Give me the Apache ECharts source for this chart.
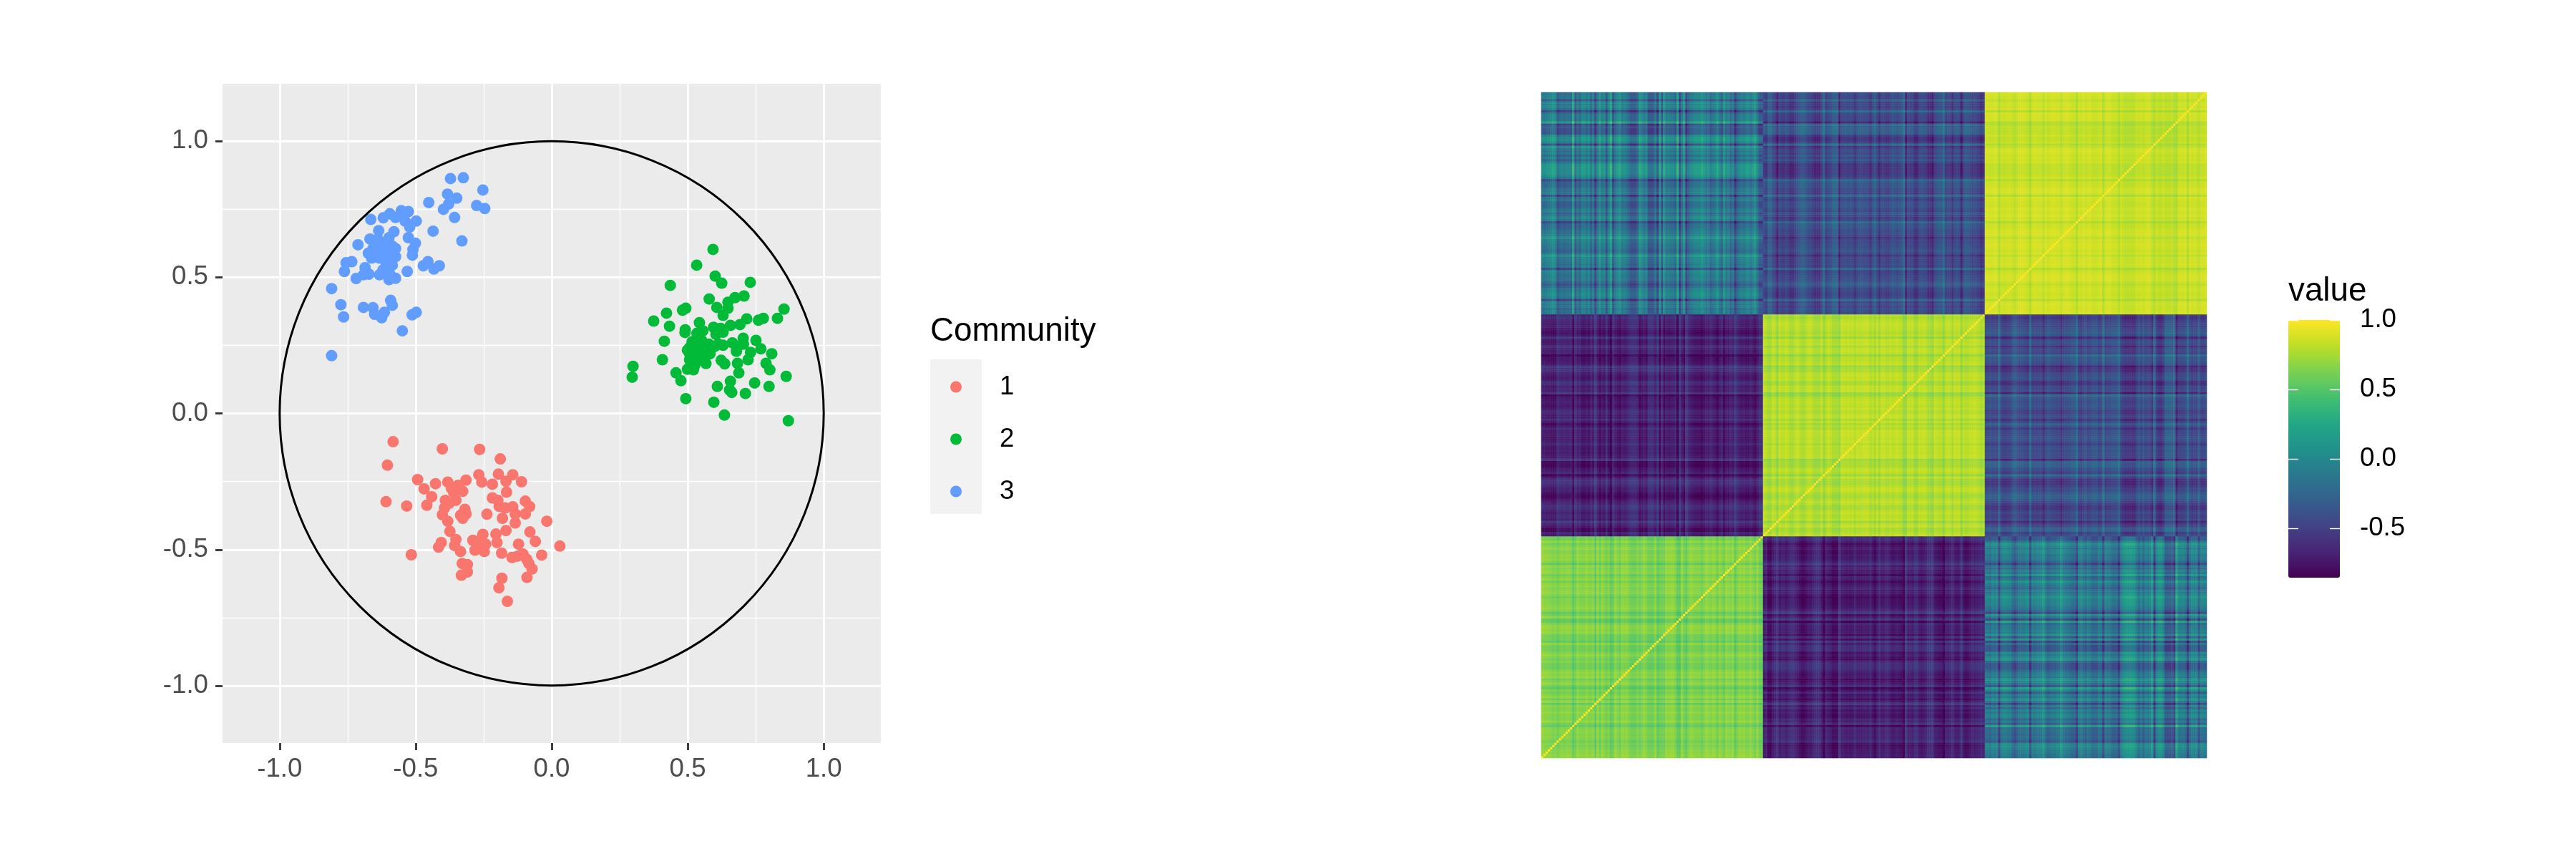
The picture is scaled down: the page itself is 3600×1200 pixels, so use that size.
<!DOCTYPE html>
<html><head><meta charset="utf-8">
<style>html,body{margin:0;padding:0;background:#fff}#c{width:3600px;height:1200px}</style>
<script src="https://cdn.jsdelivr.net/npm/echarts@6/dist/echarts.min.js"></script>
</head><body><div id="c"></div>
<script>
// Scatter positions.
const community1 = [[-.583,-.104],[-.402,-.130],[-.265,-.132],[-.189,-.167],[-.604,-.190],[-.493,-.243],[-.427,-.258],[-.469,-.277],[-.441,-.306],[-.459,-.337],[-.382,-.252],[-.315,-.245],[-.344,-.264],[-.360,-.291],[-.327,-.286],[-.268,-.225],[-.257,-.252],[-.218,-.260],[-.196,-.223],[-.168,-.249],[-.143,-.225],[-.111,-.251],[-.166,-.289],[-.609,-.324],[-.533,-.340],[-.218,-.310],[-.198,-.319],[-.097,-.322],[-.081,-.342],[-.193,-.341],[-.143,-.343],[-.171,-.347],[-.134,-.369],[-.097,-.369],[-.238,-.370],[-.377,-.330],[-.352,-.319],[-.394,-.347],[-.402,-.372],[-.319,-.352],[-.335,-.374],[-.315,-.369],[-.327,-.385],[-.382,-.396],[-.181,-.385],[-.134,-.402],[-.018,-.396],[-.374,-.433],[-.168,-.430],[-.205,-.443],[-.080,-.435],[-.253,-.444],[-.060,-.470],[-.352,-.463],[-.201,-.474],[-.122,-.480],[.030,-.487],[-.290,-.466],[-.243,-.480],[-.268,-.485],[-.406,-.474],[-.416,-.491],[-.357,-.485],[-.335,-.507],[-.282,-.502],[-.248,-.507],[-.516,-.519],[-.184,-.513],[-.146,-.529],[-.106,-.516],[-.037,-.520],[-.126,-.524],[-.092,-.535],[-.084,-.551],[-.072,-.571],[-.091,-.602],[-.329,-.551],[-.310,-.555],[-.310,-.582],[-.332,-.594],[-.183,-.605],[-.194,-.640],[-.163,-.690],[-.260,-.463],[-.369,-.275],[-.391,-.319]];
const community2 = [[.593,.602],[.533,.544],[.601,.504],[.625,.478],[.730,.481],[.436,.470],[.579,.420],[.607,.389],[.648,.408],[.674,.425],[.707,.431],[.648,.386],[.630,.360],[.854,.383],[.830,.349],[.778,.349],[.760,.342],[.717,.347],[.692,.326],[.657,.323],[.493,.386],[.481,.379],[.422,.368],[.375,.339],[.433,.320],[.543,.333],[.491,.307],[.490,.297],[.534,.294],[.556,.303],[.595,.316],[.621,.312],[.604,.290],[.630,.298],[.414,.265],[.551,.268],[.507,.241],[.534,.237],[.613,.254],[.630,.250],[.664,.259],[.704,.276],[.705,.254],[.683,.246],[.751,.268],[.769,.237],[.809,.219],[.679,.228],[.731,.224],[.722,.197],[.507,.219],[.529,.211],[.560,.219],[.582,.219],[.507,.197],[.538,.193],[.567,.183],[.623,.195],[.636,.182],[.407,.197],[.683,.184],[.788,.184],[.802,.160],[.499,.162],[.521,.160],[.457,.149],[.475,.120],[.299,.173],[.296,.133],[.688,.149],[.657,.118],[.862,.136],[.746,.112],[.799,.099],[.609,.099],[.654,.086],[.662,.077],[.712,.073],[.493,.054],[.596,.041],[.635,-.006],[.870,-.027],[.516,.263],[.578,.254],[.600,.246],[.499,.232],[.525,.175],[.547,.254]];
const community3 = [[-.372,.862],[-.325,.865],[-.253,.820],[-.383,.805],[-.349,.790],[-.379,.768],[-.398,.749],[-.452,.774],[-.276,.763],[-.246,.752],[-.357,.719],[-.436,.669],[-.330,.633],[-.498,.706],[-.527,.741],[-.553,.744],[-.595,.733],[-.619,.718],[-.665,.712],[-.574,.719],[-.539,.706],[-.522,.684],[-.553,.728],[-.636,.671],[-.580,.667],[-.598,.645],[-.527,.645],[-.501,.625],[-.510,.601],[-.512,.581],[-.712,.619],[-.668,.640],[-.645,.623],[-.586,.614],[-.674,.588],[-.633,.597],[-.598,.588],[-.574,.575],[-.657,.605],[-.615,.575],[-.621,.623],[-.574,.605],[-.609,.553],[-.735,.557],[-.756,.553],[-.762,.521],[-.686,.535],[-.672,.511],[-.719,.495],[-.692,.509],[-.633,.509],[-.598,.518],[-.574,.496],[-.598,.491],[-.531,.521],[-.591,.505],[-.621,.526],[-.455,.557],[-.472,.542],[-.413,.542],[-.433,.530],[-.809,.458],[-.775,.399],[-.765,.354],[-.692,.389],[-.657,.388],[-.651,.364],[-.615,.371],[-.625,.351],[-.592,.415],[-.586,.397],[-.498,.371],[-.513,.362],[-.549,.303],[-.809,.212],[-.639,.640],[-.609,.605],[-.633,.570],[-.662,.570],[-.598,.562],[-.586,.544],[-.603,.535],[-.645,.579]];
const communityNames = ['1','2','3'];
const communityColors = ['#F8766D','#00BA38','#619CFF'];
const unitCircle = [[0,0,1]];
const majorTicks = [-1,-0.5,0,0.5,1];
const minorTicks = [-0.75,-0.25,0.25,0.75];
const legendTicks = [-0.5,0,0.5,1];

// Heat map: the 90 000 cells cannot be read one by one. These are per-variable stripe
// strengths (100 per community, -3 dark .. +3 bright);
// the cells are rebuilt from them with the block levels below, so the matrix is an
// approximation of the stripe pattern, not a cell-exact reading.
const stripes1 = [0,0,.5,.5,1,1.5,1,-2,-1,-.5,-1,-.5,-.5,-1,3,-2,0,-1,1,1,0,1,-1,.5,-3,0,2,0,1,-2,1,3,-2,0,1,2,0,.5,0,-1,-2,-2,-2,-1,2,1,0,1,-2,-2,-2,0,-3,2,-2,2,0,.5,0,0,-1,3,-3,0,2,-3,-1,0,.5,1,1,1,2,1,0,.5,-1,0,.5,2,0,-1,2,0,.5,-1,0,-3,-1,0,.5,0,1,1,0,1,2,0,-2,-2];
const stripes2 = [0,-1,2,2,0,-1,-3,0,-1,-1,0,-1,-2,-2,-1,0,1,2,2,1,0,0,-1,-2,-2,-2,0,3,-1,0,.5,2,2,2,-3,0,0,.5,0,.5,0,-1.5,0,.5,.5,0,0,0,-1.5,.5,2,0,-2,0,0,-1,-1,0,1,.5,0,.5,1,3,-3,0,-.5,0,-2,-2,0,.5,0,-.5,-2,-2,-3,0,.5,1,1,3,-.5,0,-.5,-2,0,.5,0,-3,.5,1.5,1,.5,-.5,0,-.5,-1,-2,-1];
const stripes3 = [0,0,-.5,.5,0,.5,-3,.5,1,1,.5,.5,-1,-2,-1,0,0,0,.5,1,-3,.5,0,.5,.5,.5,2,0,-1,-.5,0,0,.5,.5,2,.5,0,0,-.5,-1,-1,-3,.5,1,0,-1,.5,0,-1,-1,-1,.5,0,-3,.5,0,0,-1,-1,-1,-3,.5,1.5,2,2,2,2,2,.5,-1,.5,-1,.5,0,.5,2,-3,1,2,2,1,-2,-2,-2,-1.5,-3,3,.5,.5,.5,0,-3,0,1,.5,1,-2,.5,.5,0];
const selfLevels = [0.74,0.86,0.91];
const selfStripeGain = [0.05,0.04,0.035];
const level12 = -0.70, gain12 = 0.05;
const level13 = -0.13, gain13 = 0.105;
const level23 = -0.42, gain23 = 0.07;
const valueMin = -0.855, valueMax = 1;
const viridis = ['#440154','#482475','#414487','#355f8d','#2a788e','#21918c','#22a884','#44bf70','#7ad151','#bddf26','#fde725'];

const profiles = [stripes1,stripes2,stripes3];
function cell(i,j){
  if(i===j) return 1;
  const gi=Math.floor(i/100), gj=Math.floor(j/100), a=i%100, b=j%100;
  let v;
  if(gi===gj){
    const p=profiles[gi];
    v=selfLevels[gi]-selfStripeGain[gi]*(Math.abs(p[a])+Math.abs(p[b]));
  } else {
    const lo=gi<gj?[gi,a]:[gj,b], hi=gi<gj?[gj,b]:[gi,a];
    const pl=profiles[lo[0]][lo[1]], ph=profiles[hi[0]][hi[1]];
    if(lo[0]===0&&hi[0]===1) v=level12-gain12*(pl+ph);
    else if(lo[0]===0&&hi[0]===2) v=level13+gain13*(pl+ph);
    else v=level23+gain23*(pl-ph);
  }
  return Math.max(valueMin,Math.min(valueMax,v));
}
const indices=[]; for(let i=0;i<300;i++) indices.push(i);
const matrix=[];
for(const i of indices) for(const j of indices) matrix.push([i,j,cell(i,j)]);

const FONT='"Liberation Sans", Arial, sans-serif';
const fmt=v=>Number(v).toFixed(1);

const chart=echarts.init(document.getElementById('c'),null,{renderer:'canvas'});
chart.setOption({
  animation:false,
  backgroundColor:'#fff',
  textStyle:{fontFamily:FONT},
  title:[
    {text:'Community',left:1300,top:440,padding:0,textStyle:{fontFamily:FONT,fontSize:45.8,fontWeight:'normal',color:'#000'}},
    {text:'value',left:3198,top:384,padding:0,textStyle:{fontFamily:FONT,fontSize:45.8,fontWeight:'normal',color:'#000'}}
  ],
  graphic:[{type:'rect',z:0,shape:{x:1300,y:502,width:72,height:216},style:{fill:'#f2f2f2'}}],
  grid:[
    {left:311,top:117,width:920,height:921,show:true,backgroundColor:'#ebebeb',borderWidth:0},
    {left:2154,top:129,width:930,height:930},
    {left:3198,top:447,width:72,height:360}
  ],
  xAxis:[
    {gridIndex:0,type:'value',min:-1.21,max:1.21,position:'bottom',
      axisLine:{show:false,onZero:false},
      axisTick:{show:true,customValues:majorTicks,length:10,lineStyle:{color:'#333',width:2.8}},
      axisLabel:{customValues:majorTicks,formatter:fmt,color:'#4d4d4d',fontSize:36.67,fontFamily:FONT,margin:18},
      splitLine:{show:true,lineStyle:{color:'#fff',width:2.8}}},
    {gridIndex:0,type:'value',min:-1.21,max:1.21,position:'top',
      axisLine:{show:false,onZero:false},axisLabel:{show:false},
      axisTick:{show:false,customValues:minorTicks},
      splitLine:{show:true,lineStyle:{color:'#fff',width:1.4}}},
    {gridIndex:1,type:'category',data:indices,show:false},
    {gridIndex:2,type:'value',min:0,max:1,show:false}
  ],
  yAxis:[
    {gridIndex:0,type:'value',min:-1.21,max:1.21,position:'left',
      axisLine:{show:false,onZero:false},
      axisTick:{show:true,customValues:majorTicks,length:10,lineStyle:{color:'#333',width:2.8}},
      axisLabel:{customValues:majorTicks,formatter:fmt,color:'#4d4d4d',fontSize:36.67,fontFamily:FONT,margin:20,padding:[4,0,0,0]},
      splitLine:{show:true,lineStyle:{color:'#fff',width:2.8}}},
    {gridIndex:0,type:'value',min:-1.21,max:1.21,position:'right',
      axisLine:{show:false,onZero:false},axisLabel:{show:false},
      axisTick:{show:false,customValues:minorTicks},
      splitLine:{show:true,lineStyle:{color:'#fff',width:1.4}}},
    {gridIndex:1,type:'category',data:indices,show:false},
    {gridIndex:2,type:'value',min:valueMin,max:valueMax,position:'right',z:10,
      axisLine:{show:false,onZero:false},splitLine:{show:false},
      axisTick:{show:true,inside:true,customValues:legendTicks,length:14,lineStyle:{color:'#fff',width:1.4}},
      axisLabel:{customValues:legendTicks,formatter:fmt,color:'#000',fontSize:36.67,fontFamily:FONT,margin:28,padding:[6,0,0,0]}},
    {gridIndex:2,type:'value',min:valueMin,max:valueMax,position:'left',z:10,
      axisLine:{show:false,onZero:false},splitLine:{show:false},axisLabel:{show:false},
      axisTick:{show:true,inside:true,customValues:legendTicks,length:14,lineStyle:{color:'#fff',width:1.4}}}
  ],
  legend:{
    data:communityNames,orient:'vertical',left:1328,top:522,padding:0,
    itemWidth:16,itemHeight:16,itemGap:36,icon:'circle',selectedMode:false,z:5,
    textStyle:{fontFamily:FONT,fontSize:36.67,color:'#000',lineHeight:16,padding:[0,0,0,48]}
  },
  visualMap:{
    type:'continuous',seriesIndex:4,min:valueMin,max:valueMax,calculable:false,
    left:3198,top:447,padding:0,itemWidth:72,itemHeight:360,text:null,showLabel:false,
    hoverLink:false,realtime:false,z:2,
    inRange:{color:viridis},textStyle:{fontSize:0}
  },
  series:[
    {type:'scatter',name:communityNames[0],xAxisIndex:0,yAxisIndex:0,data:community1,symbolSize:16,itemStyle:{color:communityColors[0],opacity:1},z:3,silent:true},
    {type:'scatter',name:communityNames[1],xAxisIndex:0,yAxisIndex:0,data:community2,symbolSize:16,itemStyle:{color:communityColors[1],opacity:1},z:3,silent:true},
    {type:'scatter',name:communityNames[2],xAxisIndex:0,yAxisIndex:0,data:community3,symbolSize:16,itemStyle:{color:communityColors[2],opacity:1},z:3,silent:true},
    {type:'custom',xAxisIndex:0,yAxisIndex:0,data:unitCircle,z:4,silent:true,clip:false,
      renderItem:function(params,api){
        const c=api.coord([api.value(0),api.value(1)]);
        const s=api.size([api.value(2),api.value(2)]);
        return {type:'arc',shape:{cx:c[0],cy:c[1],r:s[0],startAngle:0,endAngle:Math.PI*2},style:{stroke:'#000',fill:null,lineWidth:3}};
      }},
    {type:'heatmap',xAxisIndex:2,yAxisIndex:2,data:matrix,progressive:0,silent:true,emphasis:{disabled:true}}
  ]
});
</script></body></html>
